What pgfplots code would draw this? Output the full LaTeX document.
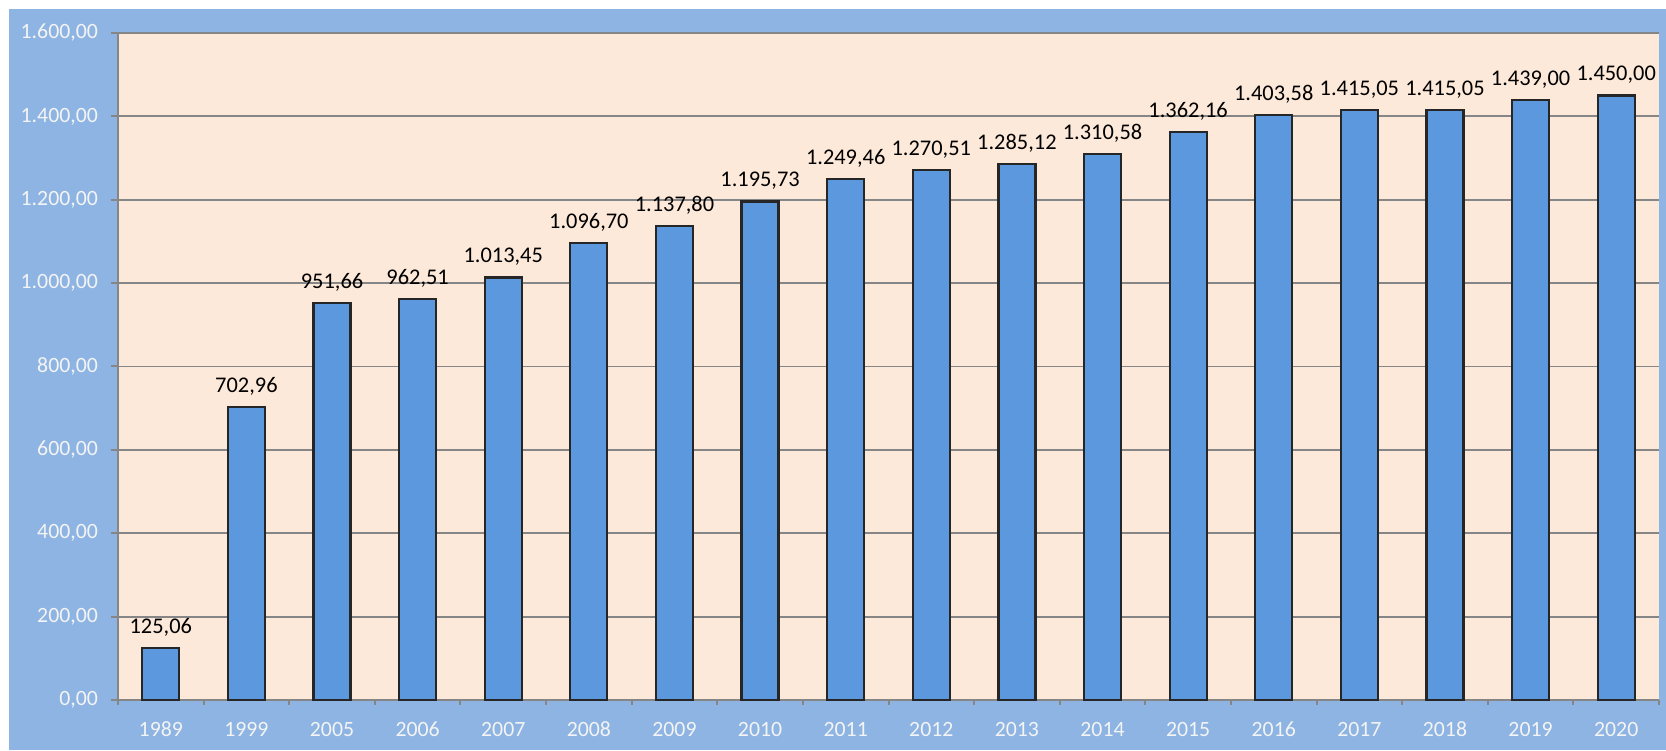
\documentclass[border=0pt]{standalone}
\usepackage{pgfplots}
\pgfplotsset{compat=1.18}
\usepackage{fontspec}
\setmainfont{Carlito}
\definecolor{frameblue}{RGB}{141,180,226}
\definecolor{plotbg}{RGB}{253,233,217}
\definecolor{barblue}{RGB}{92,152,222}
\definecolor{gridgray}{RGB}{134,134,134}
\definecolor{ticktext}{RGB}{244,244,244}
\begin{document}
\begin{tikzpicture}
\fill[white] (-59pt,-25pt) rectangle (774pt,350pt);
\fill[frameblue] (-54.5pt,-25pt) rectangle (774pt,345.5pt);
\begin{axis}[
  at={(0pt,0pt)}, anchor=south west,
  scale only axis, width=770.5pt, height=333.5pt,
  xmin=-0.5, xmax=17.5, ymin=0, ymax=1600,
  axis background/.style={fill=plotbg},
  axis lines=left, axis line style={gridgray, line width=1pt, -},
  ymajorgrids, grid style={gridgray, line width=0.9pt},
  tick align=outside,
  ytick={0,200,...,1600},
  yticklabels={{0,00},{200,00},{400,00},{600,00},{800,00},{1.000,00},{1.200,00},{1.400,00},{1.600,00}},
  xtick={0,...,17},
  xticklabels={1989,1999,2005,2006,2007,2008,2009,2010,2011,2012,2013,2014,2015,2016,2017,2018,2019,2020},
  minor xtick={-0.5,0.5,...,17.5},
  major x tick style={draw=none},
  major tick length=3.5pt, minor tick length=2.5pt,
  y tick style={gridgray, line width=1pt},
  minor x tick style={gridgray, line width=1pt},
  tick label style={font=\fontsize{10.9}{13}\selectfont, text=ticktext},
  yticklabel style={xshift=-3pt},
  xticklabel style={yshift=-4pt},
  ybar, bar width=18.5pt,
  point meta=explicit symbolic,
  nodes near coords,
  every node near coord/.append style={font=\fontsize{11.2}{13}\selectfont, text=black, yshift=2pt},
  clip=false,
]
\addplot[fill=barblue, draw=black!85, line width=1.1pt] coordinates {
(0,125.06) [{125,06}]
(1,702.96) [{702,96}]
(2,951.66) [{951,66}]
(3,962.51) [{962,51}]
(4,1013.45) [{1.013,45}]
(5,1096.70) [{1.096,70}]
(6,1137.80) [{1.137,80}]
(7,1195.73) [{1.195,73}]
(8,1249.46) [{1.249,46}]
(9,1270.51) [{1.270,51}]
(10,1285.12) [{1.285,12}]
(11,1310.58) [{1.310,58}]
(12,1362.16) [{1.362,16}]
(13,1403.58) [{1.403,58}]
(14,1415.05) [{1.415,05}]
(15,1415.05) [{1.415,05}]
(16,1439.00) [{1.439,00}]
(17,1450.00) [{1.450,00}]
};
\end{axis}
\end{tikzpicture}
\end{document}
